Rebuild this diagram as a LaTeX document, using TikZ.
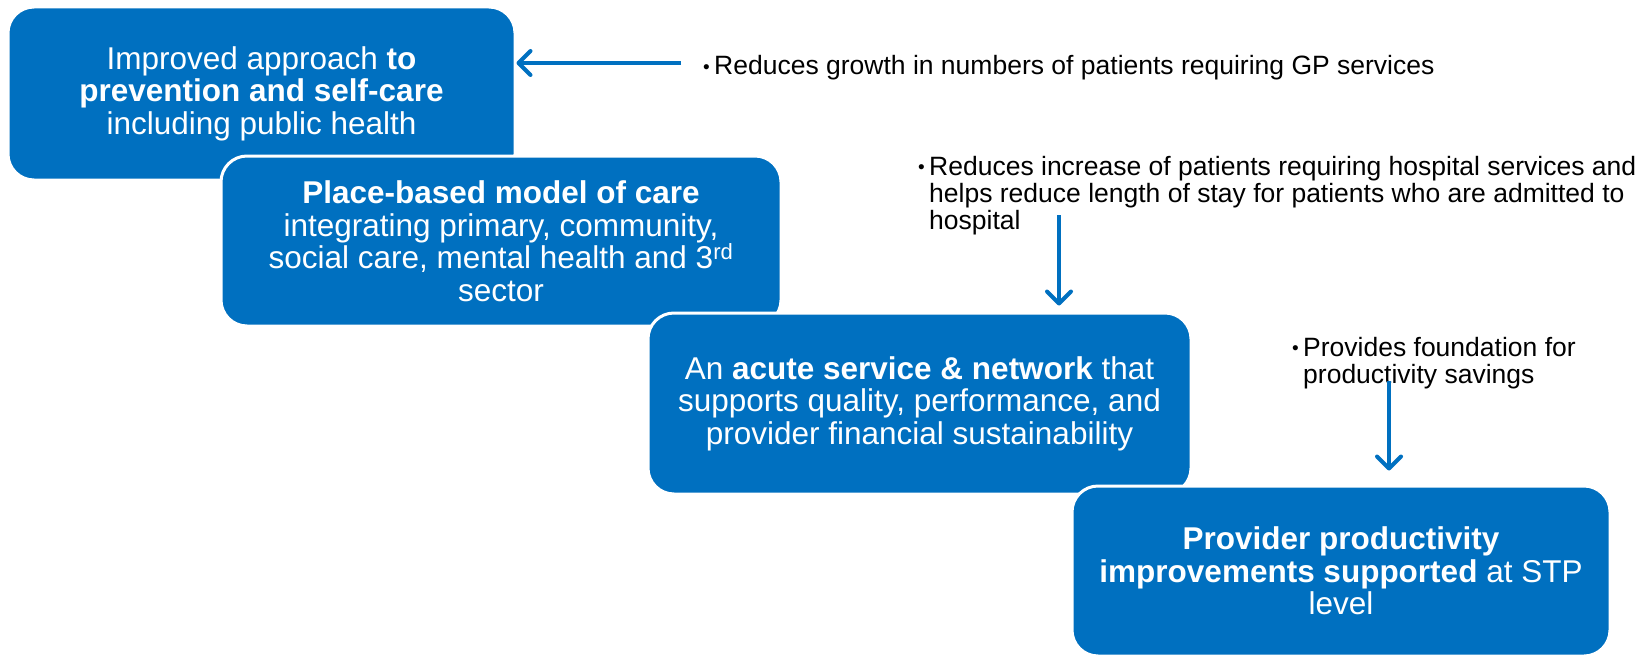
\documentclass[tikz,border=0pt]{standalone}
\usepackage{fontspec}
\setmainfont{Liberation Sans}
\usetikzlibrary{arrows.meta}
\definecolor{stageblue}{RGB}{0,112,192}
\newcommand\bulletmark{\llap{\raisebox{1.2pt}{\fontsize{19}{19}\selectfont\textbullet}\hspace{4.5pt}}}
\begin{document}
\begin{tikzpicture}[x=1pt,y=-1pt,
  stage/.style={fill=stageblue, draw=white, line width=3pt, rounded corners=26pt,
    text=white, align=center, inner sep=0pt,
    font=\fontsize{31.5}{32.5}\selectfont},
  note/.style={anchor=base west, inner sep=0pt, text=black,
    font=\fontsize{26.5}{27.5}\selectfont},
  link/.style={draw=stageblue, line width=4pt,
    -{Straight Barb[length=12pt,width=24pt,round]}}]
\useasboundingbox (0,0) rectangle (1648,658);

% the four stages, each one laid over the previous
\node[stage, minimum width=507pt, minimum height=173pt] (b1) at (261.5,93.5)
  {Improved approach \textbf{to}\\ \textbf{prevention and self-care}\\ including public health};
\node[stage, minimum width=560pt, minimum height=170pt] (b2) at (501,241)
  {\textbf{Place-based model of care}\\ integrating primary, community,\\ social care, mental health and 3\textsuperscript{rd}\\ sector};
\node[stage, minimum width=543pt, minimum height=181pt] (b3) at (919.5,403.5)
  {An \textbf{acute service \& network} that\\ supports quality, performance, and\\ provider financial sustainability};
\node[stage, minimum width=538pt, minimum height=170pt] (b4) at (1341,571)
  {\textbf{Provider productivity}\\ \textbf{improvements supported} at STP\\ level};

% notes on the effect of each stage
\node[note] (n1) at (714,75)
  {\begin{tabular}[t]{@{}l@{}}\bulletmark Reduces growth in numbers of patients requiring GP services\end{tabular}};
\node[note] (n2) at (929,175)
  {\begin{tabular}[t]{@{}l@{}}\bulletmark Reduces increase of patients requiring hospital services and\\
   helps reduce length of stay for patients who are admitted to\\ hospital\end{tabular}};
\node[note] (n3) at (1303,356)
  {\begin{tabular}[t]{@{}l@{}}\bulletmark Provides foundation for\\ productivity savings\end{tabular}};

% arrows from the notes to the stages
\coordinate (s1) at (681,63);
\coordinate (s2) at (1059,215);
\coordinate (s3) at (1389,381);
\draw[link] (s1) -- (s1 -| b1.east);
\draw[link, shorten >=6pt] (s2) -- (s2 |- b3.north);
\draw[link, shorten >=14pt] (s3) -- (s3 |- b4.north);
\end{tikzpicture}
\end{document}
